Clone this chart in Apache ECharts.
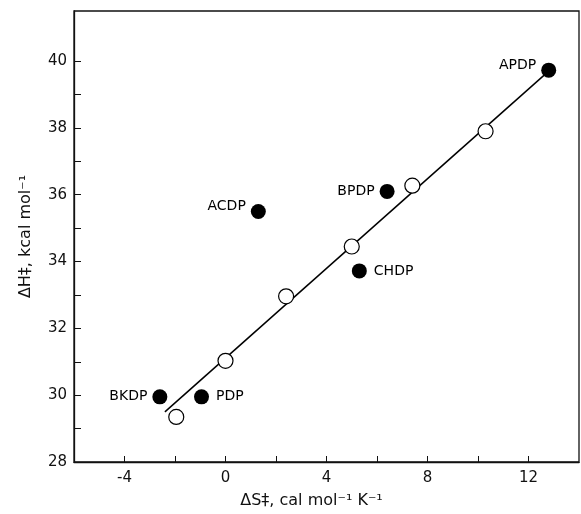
<!DOCTYPE html>
<html>
<head>
<meta charset="utf-8">
<script src="https://cdn.jsdelivr.net/npm/echarts@6/dist/echarts.min.js"></script>
<style>html,body{margin:0;padding:0;background:#fff}#c{width:581px;height:514px}</style>
</head>
<body>
<div id="c"></div>
<script>
// Filled circles (named compounds)
var filledNames = ['APDP', 'BPDP', 'ACDP', 'CHDP', 'BKDP', 'PDP'];
var filledX = [12.8, 6.4, 1.3, 5.3, -2.6, -0.95];
var filledY = [39.73, 36.1, 35.5, 33.72, 29.95, 29.95];
var filledLabelPos = ['left', 'left', 'left', 'right', 'left', 'right'];
// Open circles
var openX = [10.3, 7.4, 5.0, 2.4, 0.0, -1.95];
var openY = [37.9, 36.27, 34.45, 32.96, 31.03, 29.35];
// Regression line endpoints
var lineX = [-2.4, 12.8];
var lineY = [29.5, 39.7];
// Ticks
var xTickValues = [-4, -2, 0, 2, 4, 6, 8, 10, 12];
var xLabelValues = [-4, 0, 4, 8, 12];
var yTickValues = [29, 30, 31, 32, 33, 34, 35, 36, 37, 38, 39, 40];
var yLabelValues = [28, 30, 32, 34, 36, 38, 40];

var FONT = 'DejaVu Sans';
var TXT = '#111';

var filledData = filledX.map(function (x, i) {
  var pos = filledLabelPos[i];
  var lbl = { show: true, position: pos, formatter: filledNames[i], distance: pos === 'left' ? 5 : 7 };
  if (filledNames[i] === 'APDP' || filledNames[i] === 'ACDP') lbl.offset = [0, -5];
  return { value: [x, filledY[i]], label: lbl };
});
var openData = openX.map(function (x, i) { return [x, openY[i]]; });
var lineData = lineX.map(function (x, i) { return [x, lineY[i]]; });

var chart = echarts.init(document.getElementById('c'), null, { renderer: 'canvas' });
chart.setOption({
  animation: false,
  backgroundColor: '#fff',
  grid: { left: 74, right: 2, top: 11, bottom: 49, show: true, borderColor: '#111', borderWidth: 1.3, backgroundColor: 'transparent' },
  xAxis: {
    type: 'value', min: -6, max: 14, interval: 2,
    name: 'ΔS‡, cal mol⁻¹ K⁻¹', nameLocation: 'middle', nameGap: 31,
    nameTextStyle: { fontFamily: FONT, fontSize: 16, color: TXT, padding: [0, 30, 0, 0] },
    axisLine: { show: true, onZero: false, lineStyle: { color: '#111', width: 1.3 } },
    axisTick: { show: true, inside: true, length: 6, customValues: xTickValues, lineStyle: { color: '#111', width: 1 } },
    axisLabel: { show: true, customValues: xLabelValues, margin: 9, fontFamily: FONT, fontSize: 15, color: TXT },
    splitLine: { show: false }
  },
  yAxis: {
    type: 'value', min: 28, max: 41.5, interval: 1,
    name: 'ΔH‡, kcal mol⁻¹', nameLocation: 'middle', nameGap: 40, nameRotate: 90,
    nameTextStyle: { fontFamily: FONT, fontSize: 16, color: TXT },
    axisLine: { show: true, onZero: false, lineStyle: { color: '#111', width: 1.3 } },
    axisTick: { show: true, inside: true, length: 7, customValues: yTickValues, lineStyle: { color: '#111', width: 1 } },
    axisLabel: { show: true, customValues: yLabelValues, margin: 7, fontFamily: FONT, fontSize: 15, color: TXT },
    splitLine: { show: false }
  },
  series: [
    {
      type: 'line', data: lineData, symbol: 'none', silent: true, z: 1,
      lineStyle: { color: '#000', width: 1.5 }
    },
    {
      type: 'scatter', data: openData, symbol: 'circle', symbolSize: 15, z: 3,
      itemStyle: { color: '#fff', borderColor: '#000', borderWidth: 1.2, opacity: 1 }
    },
    {
      type: 'scatter', data: filledData, symbol: 'circle', symbolSize: 15, z: 3,
      itemStyle: { color: '#000', opacity: 1 },
      label: { fontFamily: FONT, fontSize: 14, color: '#000' }
    }
  ]
});
</script>
</body>
</html>
